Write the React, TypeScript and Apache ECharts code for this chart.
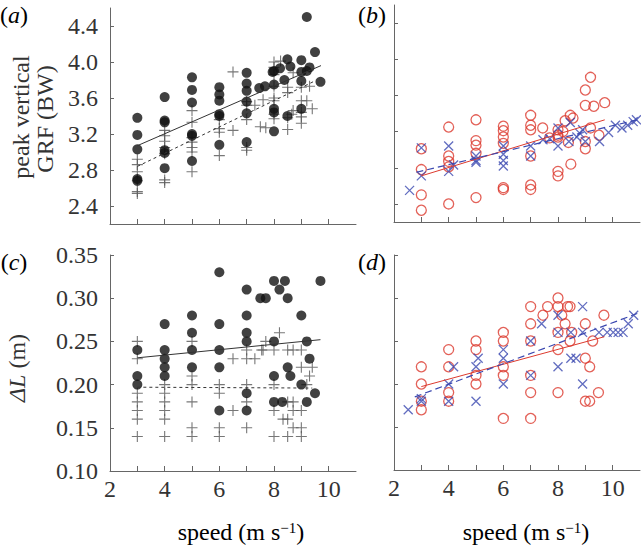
import React, { useEffect, useRef } from "react";
import * as echarts from "echarts";

type P = [number, number];

// ---------- shared axis values ----------
const speedTicks = [3, 4, 5, 6, 7, 8, 9, 10];
const speedLabels = [2, 4, 6, 8, 10];
const grfTicks = [2.4, 2.8, 3.2, 3.6, 4.0, 4.4];
const dlTicks = [0.1, 0.15, 0.2, 0.25, 0.3, 0.35];

// ---------- panel (a): peak vertical GRF ----------
const aDots: P[] = [
  [3, 3.38], [3, 3.19], [3, 3.03], [3, 2.7], [3, 2.68],
  [4, 3.61], [4, 3.35], [4, 3.33], [4, 3.02], [4, 2.99], [4, 2.82],
  [5, 3.83], [5, 3.69], [5, 3.55], [5, 3.2], [5, 3.18], [5, 2.9],
  [6, 3.72], [6, 3.64], [6, 3.57], [6, 3.42], [6, 3.4], [6, 3.08],
  [7, 3.88], [7, 3.76], [7, 3.68], [7, 3.56], [7, 3.43], [7, 3.11],
  [7.46, 3.71], [7.67, 3.73],
  [8, 3.9], [7.95, 3.89], [8, 3.75], [8, 3.48], [8, 3.44], [8, 3.23],
  [8.22, 3.93], [8.38, 3.8], [8.49, 4.03], [8.49, 3.4], [8.6, 3.95],
  [9, 4.02], [9, 3.89], [9, 3.79], [9, 3.48],
  [9.2, 4.5], [9.2, 3.9], [9.3, 3.94], [9.5, 4.11], [9.7, 3.78],
];
const aCrosses: P[] = [
  [3, 2.92], [3, 2.86], [3, 2.78], [3, 2.68], [3, 2.56], [3, 2.54],
  [4, 3.24], [4, 3.18], [4, 3.12], [4, 3.05], [4, 2.98], [4, 2.69], [4, 2.66],
  [5, 3.46], [5, 3.33], [5, 3.16], [5, 3.11], [5, 3.05], [5, 3.0], [5, 2.78],
  [6, 3.36], [6, 3.26], [6, 3.22], [6, 2.96],
  [6.5, 3.89], [6.5, 3.24],
  [7, 3.56], [7, 3.52], [7, 3.36], [7, 3.05], [7, 3.02],
  [7.3, 3.52], [7.6, 3.58], [7.5, 3.28], [7.7, 3.27],
  [8, 4.0], [8, 3.94], [8, 3.86], [8, 3.73], [8, 3.6], [8, 3.57], [8, 3.42], [8, 3.37],
  [8.24, 4.01],
  [8.5, 3.72], [8.5, 3.66], [8.5, 3.38], [8.5, 3.25],
  [8.7, 3.88], [8.7, 3.46], [8.65, 3.42],
  [9, 3.72], [9, 3.57], [9, 3.44], [9, 3.39], [9, 3.32],
  [9.2, 3.57], [9.3, 3.73], [9.4, 3.48],
];
const aSolidLine: P[] = [[3, 3.07], [9.72, 3.96]];
const aDashLine: P[] = [[3, 2.84], [9.5, 3.79]];

// ---------- panel (b) ----------
const bCircles: P[] = [
  [3, 3.01], [3, 2.78], [3, 2.5], [3, 2.33],
  [4, 3.25], [4, 2.93], [4, 2.87], [4, 2.81], [4, 2.4],
  [5, 3.33], [5, 3.1], [5, 3.05], [5, 2.96], [5, 2.47],
  [6, 3.26], [6, 3.21], [6, 3.14], [6, 3.07], [6, 2.58], [6, 2.56],
  [7, 3.38], [7, 3.27], [7, 3.22], [7, 2.93], [7, 2.61], [7, 2.56],
  [7.44, 3.24], [7.69, 3.13],
  [8, 3.22], [8, 3.16], [8, 3.14], [8, 2.76], [8, 2.71],
  [8.18, 3.2], [8.26, 3.32], [8.45, 3.38], [8.55, 3.35], [8.38, 3.08], [8.47, 2.84],
  [9, 3.66], [9, 3.49], [9, 3.09], [9, 3.01],
  [9.19, 3.8], [9.19, 3.24], [9.31, 3.48], [9.5, 3.16], [9.71, 3.52],
];
const bXs: P[] = [
  [2.57, 2.55],
  [3, 3.02], [3, 2.71],
  [4, 3.04], [4, 2.76], [4.18, 2.83],
  [5, 2.93], [5, 2.88], [5, 2.86],
  [6, 3.04], [6, 2.95], [6, 2.88], [6, 2.82],
  [7, 3.04], [7, 2.93], [7.45, 3.11], [7.7, 3.12],
  [8, 3.24], [8, 3.04], [8.45, 3.3], [8.4, 3.09], [8.69, 3.14], [8.8, 3.18], [8.9, 3.22], [9, 3.09],
  [9.52, 3.09], [9.85, 3.19], [10.1, 3.27], [10.34, 3.24], [10.55, 3.27], [10.75, 3.31], [10.87, 3.33],
];
const bRedLine: P[] = [[3, 2.71], [9.71, 3.33]];
const bBlueLine: P[] = [[2.82, 2.75], [10.9, 3.33]];

// ---------- panel (c): ΔL ----------
const cDots: P[] = [
  [3, 0.24], [3, 0.21], [3, 0.2],
  [4, 0.27], [4, 0.24], [4, 0.23], [4, 0.22], [4, 0.21],
  [5, 0.28], [5, 0.26], [5, 0.24], [5, 0.22],
  [6, 0.33], [6, 0.27], [6, 0.24], [6, 0.22], [6, 0.17],
  [7, 0.31], [7, 0.28], [7, 0.26], [7, 0.25], [7, 0.19], [7, 0.17],
  [7.5, 0.3], [7.7, 0.3],
  [8, 0.32], [8, 0.25], [8, 0.21], [8, 0.18],
  [8.2, 0.31], [8.4, 0.32], [8.5, 0.3], [8.5, 0.22], [8.6, 0.21], [8.3, 0.18],
  [9, 0.28], [9, 0.2], [9.2, 0.25], [9.2, 0.18], [9.3, 0.23], [9.5, 0.19], [9.7, 0.32],
];
const cCrosses: P[] = [
  [3, 0.25], [3, 0.23], [3, 0.19], [3, 0.18], [3, 0.17], [3, 0.16], [3, 0.14],
  [4, 0.2], [4, 0.19], [4, 0.18], [4, 0.17], [4, 0.16], [4, 0.14],
  [5, 0.25], [5, 0.21], [5, 0.2], [5, 0.18], [5, 0.15], [5, 0.14],
  [6, 0.2], [6, 0.19], [6, 0.15], [6, 0.14],
  [6.5, 0.23], [6.5, 0.17],
  [7, 0.24], [7, 0.23], [7, 0.2], [7, 0.18], [7, 0.15],
  [7.3, 0.23], [7.55, 0.24], [7.6, 0.24], [7.7, 0.25],
  [8, 0.24], [8, 0.2], [8, 0.17], [8, 0.14], [8.2, 0.26],
  [8.5, 0.24], [8.5, 0.18], [8.5, 0.16], [8.5, 0.14],
  [8.7, 0.24], [8.7, 0.18], [8.7, 0.17], [8.7, 0.15], [8.33, 0.16],
  [9, 0.24], [9, 0.22], [9, 0.17], [9, 0.15], [9, 0.14],
  [9.3, 0.21], [9.4, 0.22], [9.2, 0.2],
];
const cSolidLine: P[] = [[3, 0.231], [9.7, 0.252]];
const cDashLine: P[] = [[3, 0.197], [9.4, 0.196]];

// ---------- panel (d) ----------
const dCircles: P[] = [
  [3, 0.22], [3, 0.2], [3, 0.18], [3, 0.17],
  [4, 0.24], [4, 0.22], [4, 0.19], [4, 0.18],
  [5, 0.25], [5, 0.24], [5, 0.21], [5, 0.2],
  [6, 0.26], [6, 0.25], [6, 0.22], [6, 0.21], [6, 0.16],
  [7, 0.29], [7, 0.27], [7, 0.25], [7, 0.21], [7, 0.19], [7, 0.16],
  [7.45, 0.28], [7.62, 0.29],
  [8, 0.3], [8, 0.29], [8, 0.26], [8, 0.24], [8, 0.19],
  [8.14, 0.28], [8.26, 0.27], [8.35, 0.29], [8.44, 0.29], [8.44, 0.25], [8.5, 0.26],
  [9, 0.27], [9, 0.23], [9, 0.18], [9.16, 0.22], [9.16, 0.18],
  [9.27, 0.25], [9.48, 0.19], [9.68, 0.28],
];
const dXs: P[] = [
  [2.52, 0.17],
  [3, 0.183], [3, 0.18],
  [4, 0.2], [4, 0.18], [4.18, 0.22],
  [5, 0.22], [5, 0.18], [5.08, 0.23],
  [6, 0.24], [6, 0.23], [6, 0.2],
  [7, 0.25], [7, 0.21], [7.4, 0.27],
  [8, 0.28], [8, 0.26], [8, 0.22],
  [8.47, 0.26], [8.47, 0.23], [8.66, 0.23],
  [8.9, 0.29], [8.9, 0.26], [8.9, 0.2],
  [9.5, 0.26], [9.8, 0.26], [10.02, 0.26], [10.2, 0.26], [10.38, 0.26], [10.57, 0.27], [10.77, 0.28],
];
const dRedLine: P[] = [[3, 0.197], [9.7, 0.255]];
const dBlueLine: P[] = [[2.76, 0.185], [10.9, 0.282]];

// ---------- styling ----------
const FONT = "'Liberation Serif', 'Times New Roman', serif";
const AXIS = "#666";
const TEXT = "#333";
const RED = "#dc3a2e";
const BLUE = "#3b48b0";
const PLUS = "path://M4.5,0H5.5V4.5H10V5.5H5.5V10H4.5V5.5H0V4.5H4.5Z";
const XMARK = "path://M0,0L10,10M10,0L0,10";

function xAxis(gi: number, labels: boolean) {
  return {
    type: "value",
    gridIndex: gi,
    min: 2,
    max: 11,
    axisLine: { show: true, onZero: false, lineStyle: { color: AXIS, width: 1 } },
    axisTick: { show: true, inside: true, length: 5, customValues: speedTicks, lineStyle: { color: AXIS } },
    axisLabel: {
      show: labels,
      customValues: speedLabels,
      fontFamily: FONT,
      fontSize: 24,
      color: TEXT,
      margin: 6,
    },
    splitLine: { show: false },
  };
}

function yAxis(gi: number, min: number, max: number, ticks: number[], labels: boolean, dec: number) {
  return {
    type: "value",
    gridIndex: gi,
    min,
    max,
    axisLine: { show: true, onZero: false, lineStyle: { color: AXIS, width: 1 } },
    axisTick: { show: true, inside: true, length: 4, customValues: ticks, lineStyle: { color: AXIS } },
    axisLabel: {
      show: labels,
      customValues: ticks,
      fontFamily: FONT,
      fontSize: 24,
      color: TEXT,
      margin: 12,
      formatter: (v: number) => v.toFixed(dec),
    },
    splitLine: { show: false },
  };
}

function scatter(gi: number, data: P[], kind: "dot" | "plus" | "circle" | "x") {
  const base: any = { type: "scatter", xAxisIndex: gi, yAxisIndex: gi, data, z: 3 };
  if (kind === "dot") {
    base.symbol = "circle";
    base.symbolSize = 10;
    base.itemStyle = { color: "#111" };
  } else if (kind === "plus") {
    base.symbol = PLUS;
    base.symbolSize = 11;
    base.itemStyle = { color: "#555" };
  } else if (kind === "circle") {
    base.symbol = "circle";
    base.symbolSize = 10;
    base.itemStyle = { color: "rgba(0,0,0,0)", borderColor: RED, borderWidth: 1.3 };
  } else {
    base.symbol = XMARK;
    base.symbolSize = 9;
    base.itemStyle = { color: "rgba(0,0,0,0)", borderColor: BLUE, borderWidth: 1.3 };
  }
  return base;
}

function line(gi: number, data: P[], color: string, type: any, width = 1) {
  return {
    type: "line",
    xAxisIndex: gi,
    yAxisIndex: gi,
    data,
    showSymbol: false,
    symbol: "none",
    z: 4,
    lineStyle: { color, width, type },
  };
}

const normal = { fontFamily: FONT, fontSize: 24, color: TEXT };
const italic = { fontFamily: FONT, fontSize: 24, color: TEXT, fontStyle: "italic" };

function panelLabel(letter: string, x: number, y: number) {
  return {
    type: "text",
    x,
    y,
    style: {
      text: `{n|(}{i|${letter}}{n|)}`,
      rich: { n: normal, i: italic },
      align: "center",
      verticalAlign: "middle",
    },
  };
}

function speedLabel(x: number, y: number) {
  return {
    type: "text",
    x,
    y,
    style: {
      text: "{n|speed (m s}{s|−1}{n|)}",
      rich: {
        n: { ...normal, lineHeight: 24 },
        s: { fontFamily: FONT, fontSize: 15, color: TEXT, lineHeight: 14, verticalAlign: "top" },
      },
      align: "center",
      verticalAlign: "middle",
    },
  };
}

function vText(text: string, x: number, y: number, rich?: any) {
  return {
    type: "text",
    x,
    y,
    rotation: Math.PI / 2,
    style: {
      text,
      rich,
      fontFamily: FONT,
      fontSize: 24,
      fill: TEXT,
      align: "center",
      verticalAlign: "middle",
    },
  };
}

export default function App() {
  const ref = useRef<HTMLDivElement>(null);
  useEffect(() => {
    if (!ref.current) return;
    const chart = echarts.init(ref.current, null, { renderer: "svg" });
    const option: any = {
      animation: false,
      backgroundColor: "#fff",
      grid: [
        { left: 110, top: 8, width: 246, height: 216, outerBoundsMode: "none" },
        { left: 394, top: 5, width: 246, height: 217, outerBoundsMode: "none" },
        { left: 110, top: 255, width: 246, height: 216, outerBoundsMode: "none" },
        { left: 394, top: 255, width: 246, height: 215, outerBoundsMode: "none" },
      ],
      xAxis: [xAxis(0, false), xAxis(1, false), xAxis(2, true), xAxis(3, true)],
      yAxis: [
        yAxis(0, 2.2, 4.6, grfTicks, true, 1),
        yAxis(1, 2.2, 4.6, grfTicks, false, 1),
        yAxis(2, 0.1, 0.35, dlTicks, true, 2),
        yAxis(3, 0.1, 0.35, dlTicks, false, 2),
      ],
      series: [
        scatter(0, aCrosses, "plus"),
        scatter(0, aDots, "dot"),
        line(0, aSolidLine, "#333", "solid"),
        line(0, aDashLine, "#333", [3, 3]),
        scatter(1, bCircles, "circle"),
        scatter(1, bXs, "x"),
        line(1, bRedLine, RED, "solid"),
        line(1, bBlueLine, BLUE, [7, 4], 1.2),
        scatter(2, cCrosses, "plus"),
        scatter(2, cDots, "dot"),
        line(2, cSolidLine, "#333", "solid"),
        line(2, cDashLine, "#333", [3, 3]),
        scatter(3, dCircles, "circle"),
        scatter(3, dXs, "x"),
        line(3, dRedLine, RED, "solid"),
        line(3, dBlueLine, BLUE, [7, 4], 1.2),
      ],
      graphic: [
        panelLabel("a", 14, 15),
        panelLabel("b", 372, 15),
        panelLabel("c", 14, 262),
        panelLabel("d", 372, 262),
        vText("peak vertical", 21, 117),
        vText("GRF (BW)", 45, 119),
        vText("{i|ΔL} (m)", 17, 368, { i: { fontFamily: FONT, fontSize: 24, fontStyle: "italic", color: TEXT } }),
        speedLabel(241, 532),
        speedLabel(526, 532),
      ],
    };
    chart.setOption(option);
    return () => chart.dispose();
  }, []);
  return (
    <div
      ref={ref}
      style={{ position: "fixed", left: 0, top: 0, width: 641, height: 546 }}
    />
  );
}
